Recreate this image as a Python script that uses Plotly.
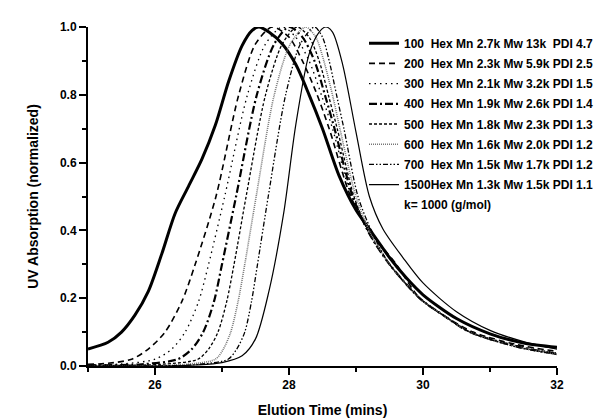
import plotly.graph_objects as go

NB = "\u00a0"
names = [
    "100" + NB + " Hex Mn 2.7k Mw 13k" + NB + " PDI 4.7",
    "200" + NB + " Hex Mn 2.3k Mw 5.9k PDI 2.5",
    "300" + NB + " Hex Mn 2.1k Mw 3.2k PDI 1.5",
    "400" + NB + " Hex Mn 1.9k Mw 2.6k PDI 1.4",
    "500" + NB + " Hex Mn 1.8k Mw 2.3k PDI 1.3",
    "600" + NB + " Hex Mn 1.6k Mw 2.0k PDI 1.2",
    "700" + NB + " Hex Mn 1.5k Mw 1.7k PDI 1.2",
    "1500Hex Mn 1.3k Mw 1.5k PDI 1.1",
]
note = "k= 1000 (g/mol)"

x100 = [25.0, 25.3, 25.5, 25.7, 25.9, 26.1, 26.3, 26.5, 26.7, 26.9, 27.1, 27.3, 27.45, 27.55, 27.7, 27.9, 28.1, 28.3, 28.5, 28.75, 29.0, 29.25, 29.5, 29.75, 30.0, 30.5, 31.0, 31.5, 32.0]
y100 = [0.05, 0.07, 0.10, 0.15, 0.22, 0.33, 0.45, 0.53, 0.61, 0.71, 0.84, 0.945, 0.99, 1.0, 0.985, 0.95, 0.89, 0.80, 0.70, 0.56, 0.46, 0.39, 0.32, 0.26, 0.21, 0.14, 0.095, 0.068, 0.055]

x200 = [25.0, 25.3, 25.65, 25.9, 26.15, 26.4, 26.6, 26.91, 27.25, 27.5, 27.75, 28.0, 28.2, 28.4, 28.6, 28.92, 29.2, 29.6, 29.95, 30.3, 30.75, 31.4, 32.0]
y200 = [0.005, 0.008, 0.02, 0.05, 0.10, 0.19, 0.30, 0.50, 0.80, 0.95, 1.0, 0.97, 0.90, 0.81, 0.70, 0.50, 0.40, 0.30, 0.20, 0.15, 0.10, 0.063, 0.043]

x300 = [25.0, 25.5, 26.0, 26.25, 26.45, 26.65, 26.8, 27.04, 27.38, 27.65, 27.9, 28.1, 28.3, 28.5, 28.65, 28.93, 29.2, 29.5, 29.95, 30.3, 30.7, 31.4, 32.0]
y300 = [0.003, 0.006, 0.02, 0.05, 0.10, 0.19, 0.30, 0.50, 0.80, 0.95, 1.0, 0.97, 0.90, 0.79, 0.70, 0.50, 0.39, 0.30, 0.20, 0.15, 0.10, 0.06, 0.038]

x400 = [25.0, 25.8, 26.34, 26.55, 26.72, 26.88, 27.0, 27.21, 27.52, 27.78, 28.0, 28.2, 28.38, 28.55, 28.68, 28.95, 29.2, 29.5, 29.95, 30.3, 30.7, 31.4, 32.0]
y400 = [0.002, 0.005, 0.02, 0.05, 0.10, 0.19, 0.30, 0.50, 0.80, 0.95, 1.0, 0.97, 0.90, 0.79, 0.70, 0.50, 0.39, 0.30, 0.20, 0.15, 0.10, 0.058, 0.036]

x500 = [25.0, 26.1, 26.64, 26.8, 26.94, 27.07, 27.18, 27.36, 27.65, 27.9, 28.12, 28.3, 28.45, 28.6, 28.72, 28.97, 29.2, 29.5, 29.95, 30.3, 30.7, 31.4, 32.0]
y500 = [0.002, 0.005, 0.02, 0.05, 0.10, 0.19, 0.30, 0.50, 0.80, 0.95, 1.0, 0.97, 0.90, 0.79, 0.70, 0.50, 0.39, 0.30, 0.20, 0.15, 0.10, 0.057, 0.035]

x600 = [25.0, 26.4, 26.9, 27.02, 27.13, 27.24, 27.34, 27.51, 27.78, 28.02, 28.25, 28.4, 28.52, 28.66, 28.76, 29.0, 29.22, 29.5, 29.95, 30.3, 30.7, 31.4, 32.0]
y600 = [0.0, 0.004, 0.02, 0.05, 0.10, 0.19, 0.30, 0.50, 0.80, 0.95, 1.0, 0.97, 0.90, 0.79, 0.70, 0.50, 0.39, 0.30, 0.20, 0.15, 0.10, 0.056, 0.034]

x700 = [25.0, 26.6, 27.09, 27.22, 27.34, 27.44, 27.53, 27.69, 27.95, 28.17, 28.38, 28.5, 28.6, 28.72, 28.82, 29.03, 29.25, 29.5, 29.95, 30.3, 30.7, 31.4, 32.0]
y700 = [0.0, 0.004, 0.02, 0.05, 0.10, 0.19, 0.30, 0.50, 0.80, 0.95, 1.0, 0.97, 0.90, 0.79, 0.70, 0.50, 0.39, 0.30, 0.20, 0.15, 0.10, 0.056, 0.034]

x1500 = [25.0, 26.0, 26.6, 27.0, 27.3, 27.5, 27.7, 27.92, 28.1, 28.3, 28.45, 28.55, 28.65, 28.8, 29.0, 29.2, 29.4, 29.7, 30.0, 30.5, 31.0, 31.5, 32.0]
y1500 = [0.0, 0.0, 0.003, 0.01, 0.03, 0.08, 0.22, 0.45, 0.71, 0.92, 0.985, 1.0, 0.985, 0.89, 0.69, 0.50, 0.405, 0.32, 0.245, 0.16, 0.105, 0.072, 0.05]

xs = [x100, x200, x300, x400, x500, x600, x700, x1500]
ys = [y100, y200, y300, y400, y500, y600, y700, y1500]
styles = [
    dict(color="black", width=3, dash="solid"),
    dict(color="black", width=1.6, dash="6px,4px"),
    dict(color="black", width=1.3, dash="1.5px,4px"),
    dict(color="black", width=2.2, dash="8px,3px,2px,3px"),
    dict(color="black", width=1.3, dash="3px,2px"),
    dict(color="#777777", width=1.6, dash="1px,1px"),
    dict(color="black", width=1.3, dash="5px,2px,1.5px,2px,1.5px,2px"),
    dict(color="black", width=1.2, dash="solid"),
]

fig = go.Figure()
for i in range(len(names)):
    fig.add_trace(go.Scatter(
        x=xs[i], y=ys[i], mode="lines", name=names[i],
        line=dict(shape="spline", smoothing=0.8, **styles[i]),
        legendgroup="g%d" % i,
    ))
fig.add_trace(go.Scatter(x=[None], y=[None], mode="lines", name=note,
                         line=dict(color="rgba(0,0,0,0)", width=0),
                         legendgroup="note"))

font_family = "Liberation Sans, Arial, sans-serif"
fig.update_layout(
    width=610, height=420,
    margin=dict(l=80, r=61, t=17, b=55),
    paper_bgcolor="white", plot_bgcolor="white",
    font=dict(family=font_family, color="black", size=12, weight="bold"),
    showlegend=True,
    legend=dict(x=0.5885, y=0.995, xanchor="left", yanchor="top",
                bgcolor="rgba(0,0,0,0)", borderwidth=0,
                font=dict(family=font_family, size=12, color="black", weight="bold"),
                tracegroupgap=1.2, itemwidth=30),
    xaxis=dict(range=[25, 32], tick0=26, dtick=2, showgrid=False, zeroline=False,
               showline=True, linecolor="black", linewidth=2,
               ticks="outside", ticklen=7, tickwidth=2, tickcolor="black",
               minor=dict(dtick=1, tick0=25, ticks="outside", ticklen=4, tickwidth=1.5, tickcolor="black"),
               tickfont=dict(size=12, weight="bold"),
               title=dict(text="Elution Time (mins)", font=dict(size=14, weight="bold"), standoff=14)),
    yaxis=dict(range=[0, 1.0], tick0=0, dtick=0.2, tickformat=".1f", showgrid=False, zeroline=False,
               showline=True, linecolor="black", linewidth=2,
               ticks="outside", ticklen=7, tickwidth=2, tickcolor="black",
               minor=dict(dtick=0.1, ticks="outside", ticklen=4, tickwidth=1.5, tickcolor="black"),
               tickfont=dict(size=12, weight="bold"),
               title=dict(text="UV Absorption (normalized)", font=dict(size=14, weight="bold"), standoff=18)),
)

fig.write_html("out.html")
